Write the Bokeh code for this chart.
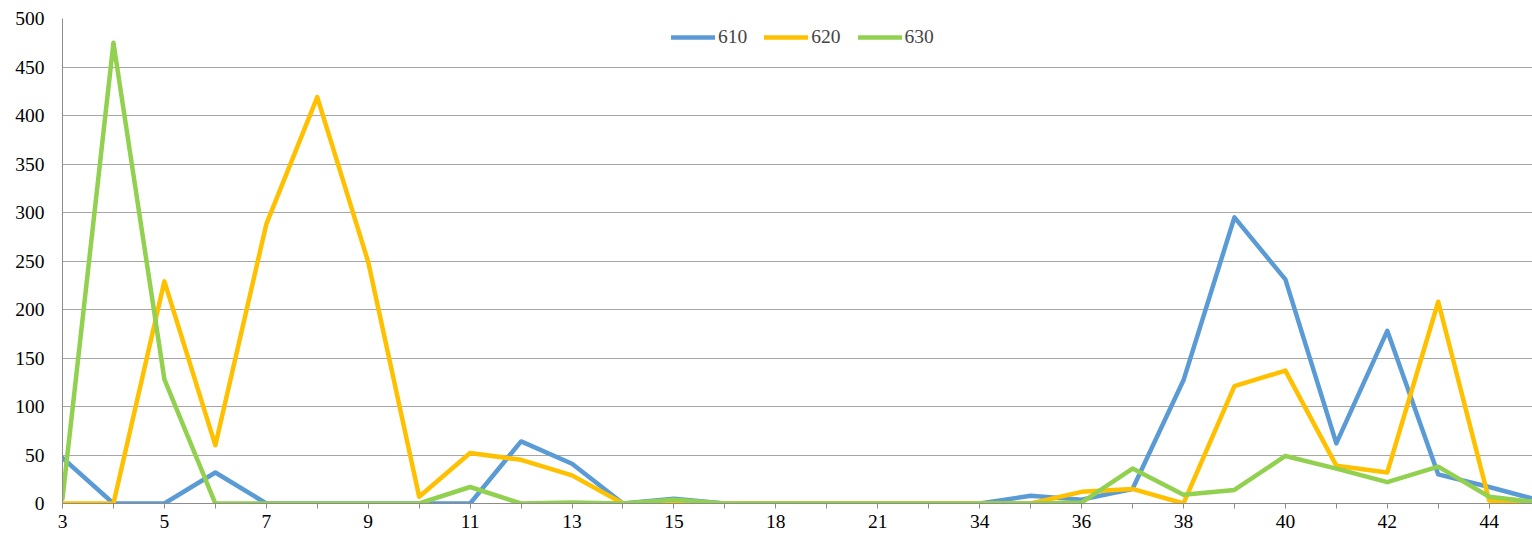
from bokeh.plotting import figure
from bokeh.models import Range1d, FixedTicker, Legend, LegendItem
from bokeh.embed import file_html
from bokeh.resources import INLINE

categories = ["3", "4", "5", "6", "7", "8", "9", "10", "11", "12", "13", "14", "15",
              "16", "18", "19", "21", "22", "34", "35", "36", "37", "38", "39", "40",
              "41", "42", "43", "44", "45"]
s610 = [47, 0, 0, 32, 0, 0, 0, 0, 0, 64, 41, 0, 5, 0, 0, 0, 0, 0, 0, 8, 4, 15,
        127, 295, 231, 62, 178, 30, 17, 3]
s620 = [0, 0, 229, 60, 288, 419, 249, 7, 52, 45, 29, 0, 0, 0, 0, 0, 0, 0, 0, 0, 12, 15,
        0, 121, 137, 39, 32, 208, 3, 0]
s630 = [5, 475, 128, 0, 0, 0, 0, 0, 17, 0, 1, 0, 4, 0, 0, 0, 0, 0, 0, 0, 1, 36,
        9, 14, 49, 36, 22, 38, 7, 1]
series_names = ["610", "620", "630"]
colors = ["#5B9BD5", "#FFC000", "#92D050"]
y_ticks = list(range(0, 501, 50))

FONT = "Liberation Serif"
xs = list(range(len(categories)))

p = figure(width=1532, height=543, output_backend="svg", toolbar_location=None,
           x_range=Range1d(0, 28.85), y_range=Range1d(0, 500),
           min_border_left=62, min_border_right=0, min_border_top=18, min_border_bottom=40)
p.outline_line_color = None
p.background_fill_color = "white"

renderers = []
for vals, c in zip([s610, s620, s630], colors):
    r = p.line(xs, vals, line_color=c, line_width=4.5, line_join="round", line_cap="round")
    renderers.append(r)

# axes
p.xaxis.ticker = FixedTicker(ticks=xs)
p.xaxis.major_label_overrides = {i: (categories[i] if i % 2 == 0 else "") for i in xs}
p.xaxis.major_tick_out = 5
p.xaxis.major_tick_in = 0
p.xaxis.minor_tick_out = 0
p.xaxis.minor_tick_in = 0
p.xaxis.major_tick_line_color = "#8c8c8c"
p.xaxis.axis_line_color = "#8c8c8c"
p.xaxis.major_label_standoff = 6

p.yaxis.ticker = FixedTicker(ticks=y_ticks)
p.yaxis.major_tick_out = 0
p.yaxis.major_tick_in = 0
p.yaxis.minor_tick_out = 0
p.yaxis.minor_tick_in = 0
p.yaxis.axis_line_color = "#8c8c8c"
p.yaxis.major_label_standoff = 18

for ax in (p.xaxis, p.yaxis):
    ax.major_label_text_font = FONT
    ax.major_label_text_font_size = "19.5px"
    ax.major_label_text_color = "black"

p.xgrid.grid_line_color = None
p.ygrid.grid_line_color = "#a6a6a6"
p.ygrid.grid_line_width = 1

legend = Legend(items=[LegendItem(label=n, renderers=[r]) for n, r in zip(series_names, renderers)],
                orientation="horizontal", location=(609, 455),
                padding=0, margin=0, spacing=17, label_standoff=3,
                glyph_width=44, glyph_height=20, label_height=20,
                border_line_color=None, background_fill_alpha=0,
                label_text_font=FONT, label_text_font_size="19.5px")
p.add_layout(legend)

open("out.html", "w").write(file_html(p, INLINE))
